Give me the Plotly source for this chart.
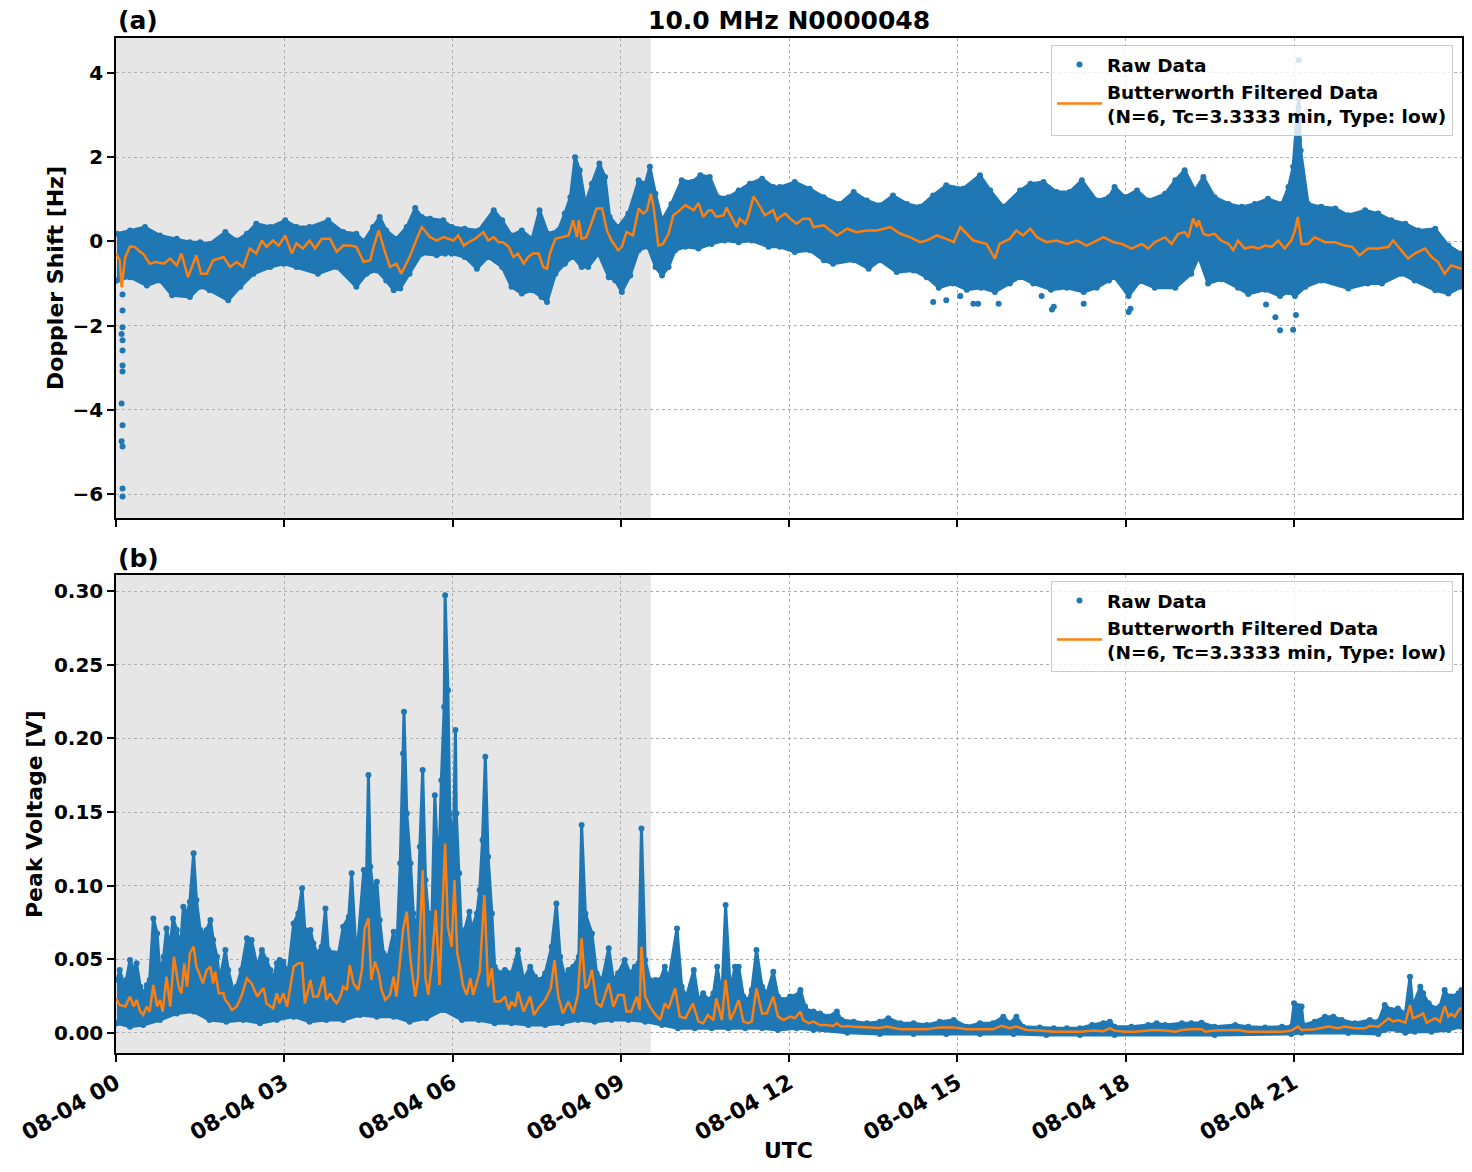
import pandas as pd
import plotly.graph_objects as go

# ---------------- data (minutes after 2024-08-04 00:00 UTC) ----------------
# Panel (a): Doppler shift [Hz]
A_FILT_T = [0, 4, 6, 8, 10, 15, 20, 26, 29, 36, 43, 51, 58, 65, 70, 77, 81, 86, 91, 97, 104, 115, 122, 129, 136,
            143, 150, 156, 161, 168, 174, 181, 188, 193, 200, 207, 213, 220, 229, 236, 243, 250, 257, 265, 272,
            275, 281, 286, 293, 300, 305, 314, 321, 327, 336, 343, 350, 361,
            366, 372, 377, 384, 393, 398, 404, 409, 414, 420, 425, 430, 436, 441, 446, 452, 457, 461, 464, 470,
            477, 484, 489, 493, 495, 498, 503, 509, 514, 520, 525, 530, 537, 541, 546, 553, 559, 564, 568, 572,
            575, 580, 585, 591, 596, 601, 609, 618, 623, 628, 634, 637, 642, 650, 653, 659, 664, 667, 673, 676,
            682, 687, 694, 703, 707,
            710, 716, 721, 728, 735, 742, 746, 757, 764, 771, 782, 792, 803, 814, 828, 839, 849, 860, 867, 878,
            888, 896, 903, 910, 917, 924, 931, 940, 945, 956, 963, 970, 978, 985, 995, 1006, 1017, 1028, 1038,
            1049, 1056, 1067,
            1076, 1086, 1097, 1104, 1111, 1122, 1129, 1136, 1143, 1147, 1152, 1156, 1158, 1163, 1168, 1175, 1182,
            1190, 1195, 1200, 1207, 1215, 1222, 1229, 1236, 1243, 1250, 1257, 1261, 1264, 1268, 1275, 1282, 1293,
            1304, 1314, 1322, 1330, 1339, 1350, 1361, 1366, 1375, 1382, 1389, 1400, 1407, 1414, 1421, 1428, 1439]
A_FILT_V = [-0.29, -0.45, -1.09, -0.69, -0.37, -0.12, -0.13, -0.25, -0.29, -0.53, -0.49, -0.53, -0.41, -0.57,
            -0.29, -0.85, -0.61, -0.33, -0.77, -0.77, -0.45, -0.37, -0.61, -0.49, -0.61, -0.17, -0.29, 0.02,
            -0.13, 0.02, -0.1, 0.14, -0.29, -0.05, -0.17, 0.02, -0.17, 0.06, 0.06, -0.25, -0.1, -0.1, -0.13,
            -0.49, -0.45, -0.17, 0.26, -0.13, -0.61, -0.53, -0.77, -0.37, 0.02, 0.34, 0.1, 0.02, 0.1, 0.02,
            0.14, -0.10, -0.02, 0.06, 0.22, 0.02, 0.10, -0.02, -0.02, -0.13, -0.37, -0.29, -0.53, -0.37, -0.29,
            -0.29, -0.61, -0.65, -0.29, 0.06, 0.10, 0.14, 0.50, 0.10, 0.50, 0.06, 0.10, 0.50, 0.78, 0.78, 0.26,
            0.02, -0.21, -0.13, 0.22, 0.14, 0.78, 0.66, 0.74, 1.13, 0.82, -0.10, -0.06, 0.18, 0.62, 0.70, 0.86,
            0.74, 0.91, 0.58, 0.74, 0.74, 0.58, 0.62, 0.80, 0.54, 0.34, 0.54, 0.42, 0.58, 1.07, 0.89, 0.62,
            0.74, 0.50,
            0.58, 0.66, 0.54, 0.42, 0.54, 0.54, 0.34, 0.38, 0.26, 0.14, 0.30, 0.22, 0.26, 0.26, 0.34, 0.18,
            0.10, -0.02, 0.02, 0.14, 0.06, -0.02, 0.34, 0.18, 0.02, -0.02, -0.06, -0.41, -0.06, 0.06, 0.26,
            0.14, 0.30, 0.10, -0.02, 0.02, -0.06, 0.02, -0.10, 0.02, 0.10, -0.02,
            -0.06, -0.17, -0.06, -0.17, -0.02, 0.10, -0.06, 0.18, 0.22, 0.10, 0.54, 0.34, 0.50, 0.18, 0.14,
            0.18, 0.02, -0.06, -0.21, 0.02, -0.17, -0.13, -0.17, -0.10, -0.13, 0.02, -0.17, 0.02, 0.26, 0.58,
            -0.06, -0.06, 0.10, -0.02, -0.02, -0.10, -0.13, -0.33, -0.17, -0.17, -0.13, 0.02, -0.21, -0.41,
            -0.29, -0.17, -0.37, -0.49, -0.77, -0.57, -0.65]

A_HI_T = [1, 15, 31, 47, 65, 79, 90, 100, 117, 129, 140, 150, 165, 181, 193, 207, 227, 243, 257, 265, 275, 282,
          289, 300, 311, 320, 327, 336, 350,
          359, 373, 388, 404, 413, 423, 434, 445, 453, 462, 473, 480, 486, 491, 496, 502, 509, 517, 523, 528,
          537, 548, 559, 566, 571, 577, 584, 594, 605, 616, 625, 635, 644, 655, 666, 678, 691, 703,
          710, 726, 742, 757, 774, 789, 803, 817, 831, 846, 860, 874, 888, 906, 924, 935, 949, 967, 978, 992,
          1006, 1020, 1033, 1049, 1062,
          1068, 1079, 1092, 1104, 1122, 1133, 1143, 1154, 1163, 1175, 1190, 1204, 1218, 1232, 1247, 1254, 1259,
          1263, 1265, 1267, 1275, 1289, 1304, 1318, 1336, 1350, 1364, 1379, 1393, 1411, 1425, 1439]
A_HI_V = [0.18, 0.26, 0.34, 0.14, 0.06, -0.02, -0.02, -0.06, 0.22, 0.02, 0.18, 0.42, 0.34, 0.5, 0.34, 0.34, 0.5,
          0.22, 0.18, 0.0, 0.34, 0.58, 0.26, 0.06, 0.34, 0.79, 0.58, 0.54, 0.5,
          0.34, 0.3, 0.26, 0.74, 0.5, 0.14, 0.26, 0.06, 0.74, 0.18, 0.26, 0.66, 1.05, 2.0, 1.69, 0.89, 1.37,
          1.85, 1.53, 0.58, 0.34, 0.66, 1.45, 1.37, 1.77, 1.13, 0.5, 0.89, 1.45, 1.41, 1.57, 1.53, 1.05, 1.05,
          1.21, 1.37, 1.49, 1.29,
          1.29, 1.41, 1.25, 1.05, 0.89, 1.17, 0.97, 0.86, 1.09, 0.89, 0.82, 1.09, 1.33, 1.25, 1.57, 1.21, 0.82,
          1.21, 1.37, 1.41, 1.17, 1.17, 1.45, 0.97, 1.05,
          1.29, 1.05, 1.21, 0.97, 1.13, 1.45, 1.69, 1.21, 1.53, 1.05, 0.89, 0.82, 0.89, 1.01, 0.89, 1.29, 1.77,
          2.95, 3.4, 2.16, 0.89, 0.82, 0.78, 0.62, 0.74, 0.66, 0.5, 0.42, 0.26, 0.3, -0.1, -0.29]

A_LO_T = [1, 15, 33, 47, 60, 79, 90, 100, 120, 133, 147, 165, 179, 193, 216, 236, 257, 268, 279, 289, 297, 304,
          314, 327, 343, 352,
          359, 373, 386, 398, 413, 423, 434, 445, 455, 461, 470, 480, 489, 498, 505, 516, 527, 534, 541, 550,
          559, 569, 577, 584, 591, 598, 609, 623, 637, 651, 666, 680, 698,
          710, 726, 742, 757, 767, 789, 805, 817, 835, 853, 867, 880, 895, 910, 925, 940, 956, 967, 981, 1000,
          1017, 1035, 1049, 1062,
          1068, 1083, 1095, 1111, 1133, 1150, 1158, 1168, 1182, 1200, 1211, 1229, 1245, 1254, 1261, 1272, 1289,
          1318, 1339, 1354, 1375, 1389, 1411, 1425, 1439]
A_LO_V = [-0.93, -0.85, -1.05, -0.93, -1.28, -1.32, -1.08, -1.16, -1.4, -1.08, -0.77, -0.61, -0.53, -0.61, -0.77,
          -0.61, -1.08, -0.77, -0.69, -0.93, -1.16, -1.12, -0.77, -0.29, -0.33, -0.29,
          -0.29, -0.37, -0.65, -0.37, -0.61, -1.08, -1.24, -1.16, -1.32, -1.44, -0.77, -0.53, -0.37, -0.61,
          -0.61, -0.29, -0.85, -0.93, -1.2, -0.81, -0.21, -0.13, -0.61, -0.81, -0.61, -0.21, -0.13, -0.17,
          -0.06, 0.02, -0.02, 0.02, -0.13,
          -0.13, -0.25, -0.21, -0.45, -0.53, -0.45, -0.65, -0.45, -0.73, -0.69, -0.85, -1.1, -1.0, -1.15, -1.1,
          -1.2, -1.0, -0.85, -1.0, -1.15, -1.1, -1.2, -1.1, -0.93,
          -0.85, -1.3, -0.95, -1.1, -1.1, -0.77, -0.37, -1.0, -0.9, -1.1, -1.25, -1.15, -1.3, -1.2, -1.3, -1.08,
          -0.93, -1.12, -1.0, -1.0, -0.77, -0.93, -1.16, -1.24, -1.08]

A_OUT_T = [7, 7, 7, 6, 7, 7, 7, 7, 6, 7, 6, 7, 7, 7,
           1265, 1265, 1264, 1265, 1265, 1264, 1265,
           874, 888, 903, 917, 922, 944, 990, 1001, 1003, 1035,
           1083, 1085, 1230, 1240, 1245, 1259, 1262]
A_OUT_V = [-1.26, -1.64, -2.04, -2.2, -2.35, -2.59, -2.95, -3.09, -3.85, -4.37, -4.75, -4.87, -5.87, -6.06,
           4.3, 3.19, 2.95, 2.72, 2.4, 2.08, 1.77,
           -1.44, -1.4, -1.3, -1.48, -1.48, -1.48, -1.3, -1.62, -1.55, -1.48,
           -1.68, -1.6, -1.5, -1.8, -2.11, -2.1, -1.75]

# Panel (b): Peak voltage [V]
B_FILT_T = [0, 4, 10, 15, 19, 22, 26, 29, 33, 36, 40, 44, 47, 50, 54, 58, 62, 67, 70, 73, 76, 79, 83, 86, 89,
            93, 97, 101, 104, 106, 110, 115, 117, 120, 124, 129, 134, 140, 145, 151, 156, 158, 161, 165, 168,
            172, 175, 179, 183, 190, 195, 199, 202, 208, 211, 216, 222, 225, 229, 233, 236, 240, 243, 247, 250,
            254, 259, 263, 266, 270, 273, 277, 281, 284, 288, 293, 297, 300, 304, 307, 311, 315, 320, 323, 328,
            331, 334, 338, 342, 346, 349,
            352, 355, 359, 362, 365, 368, 371, 375, 379, 382, 386, 389, 394, 398, 402, 405, 411, 416, 420, 423,
            427, 430, 436, 443, 447, 453, 459, 465, 469, 473, 478, 484, 489, 494, 498, 502, 505, 509, 514, 519,
            527, 532, 537, 543, 546, 551, 557, 560, 562, 566, 571, 576, 582, 587, 591, 598, 603, 609, 617, 623,
            628, 633, 639, 642, 648, 652, 657, 662, 666, 671, 676, 680, 685, 691, 696, 703, 708, 714, 721,
            726, 732, 735, 741, 746, 753, 760, 767, 771, 776, 782, 789, 803, 817, 824, 839, 853, 867, 881, 896,
            910, 924, 938, 947, 956, 963, 974, 988, 1003, 1017, 1031, 1045, 1056, 1063,
            1068, 1079, 1090, 1104, 1111, 1122, 1133, 1140, 1150, 1161, 1165, 1175, 1190, 1200, 1211, 1229,
            1247, 1257, 1264, 1268, 1282, 1297, 1307, 1314, 1325, 1336, 1341, 1350, 1357, 1361, 1366, 1371,
            1379, 1384, 1387, 1393, 1398, 1402, 1411, 1416, 1421, 1425, 1428, 1432, 1436, 1439]
B_FILT_V = [.0235, .019, .0179, .0247, .0179, .0224, .0145, .0122, .0179, .0145, .0326, .0179, .0224, .0145,
            .0382, .0179, .0518, .0314, .0269, .0473, .0314, .0541, .0586, .045, .0405, .0337, .0428, .045,
            .0337, .0416, .0269, .0269, .0224, .0201, .0156, .0179, .0247, .0371, .0337, .0247, .0292, .0303,
            .0201, .0179, .0167, .0269, .0201, .0269, .0179, .045, .0473, .0473, .0201, .036, .0247, .0247,
            .0382, .0224, .0269, .0224, .0201, .0247, .0314, .0292, .0462, .0337, .0292, .0428, .071, .0778,
            .036, .0484, .0405, .0292, .0224, .0258, .0382, .0247, .0495, .0699, .0824, .0495, .0247, .0371,
            .1106, .0371, .0258, .0484, .0835, .0326, .0812,
            .1287, .0722, .0586, .1038, .0541, .045, .0326, .0258, .0371, .0258, .036, .0416, .0937, .0314,
            .0439, .0213, .0213, .0247, .0156, .0213, .0179, .0281, .0145, .0247, .0122, .0179, .0224, .0303,
            .0495, .0247, .0133, .0213, .0133, .0258, .0643, .0303, .0326, .0428, .0201, .0179, .0337, .0179,
            .0258, .0258, .0145, .0145, .0247, .0156, .0586, .0247, .0179, .0133, .0088, .0201, .0167, .0303,
            .0111, .01, .0201, .0077, .0066, .0122, .0088, .0235, .0088, .036, .0088, .0156, .0224, .0077,
            .0066, .0077, .0303, .0133, .0133, .0247, .0111, .0088, .0111,
            .01, .0145, .0088, .0066, .0077, .0054, .0054, .0048, .0066, .0043, .0048, .0043, .0038, .0034,
            .0043, .0025, .0025, .0025, .0038, .0038, .0025, .0025, .0025, .0048, .0032, .0043, .002, .0016,
            .0009, .0009, .0009, .0016, .0011, .0032,
            .0016, .0009, .0009, .0016, .002, .0016, .0009, .002, .0025, .0025, .0009, .0016, .002, .002, .0009,
            .0009, .0009, .0016, .0043, .002, .0025, .0043, .0032, .0043, .0032, .0032, .0048, .0043, .0077,
            .01, .0077, .0088, .007, .019, .01, .0115, .0133, .007, .01, .0077, .0183, .0111, .0129, .0111,
            .0156, .0172]

B_HI_T = [1, 4, 8, 11, 15, 19, 22, 26, 29, 33, 36, 40, 44, 47, 51, 54, 58, 61, 65, 69, 72, 76, 79, 83, 86, 90,
          93, 97, 101, 104, 108, 111, 117, 120, 126, 129, 134, 140, 145, 151, 156, 161, 165, 168, 172, 175, 179,
          184, 190, 195, 199, 202, 208, 211, 215, 220, 224, 227, 233, 238, 243, 249, 252, 256, 259, 265, 268,
          270, 272, 275, 279, 282, 286, 291, 297, 300, 304, 307, 308, 311, 315, 318, 322, 325, 328, 331, 334,
          338, 341, 345, 348, 351,
          352, 355, 357, 361, 363, 364, 367, 370, 373, 378, 380, 386, 389, 392, 395, 398, 402, 405, 411, 416,
          423, 430, 436, 443, 448, 454, 459, 466, 471, 475, 480, 484, 489, 495, 498, 502, 509, 514, 520, 527,
          532, 537, 544, 550, 555, 559, 562, 566, 571, 577, 582, 587, 591, 600, 605, 610, 618, 623, 628, 634,
          639, 643, 648, 652, 657, 662, 666, 671, 676, 680, 685, 691, 696, 703, 708, 714, 721,
          726, 732, 737, 741, 746, 753, 762, 771, 776, 789, 803, 817, 826, 839, 853, 867, 881, 896, 910, 924,
          938, 949, 956, 963, 970, 988, 1003, 1017, 1031, 1044, 1056, 1063,
          1068, 1086, 1104, 1113, 1122, 1140, 1150, 1161, 1175, 1197, 1211, 1229, 1247, 1257, 1260, 1264, 1268,
          1270, 1282, 1293, 1302, 1311, 1325, 1341, 1350, 1357, 1364, 1371, 1379, 1384, 1387, 1395, 1398,
          1404, 1411, 1416, 1421, 1425, 1428, 1436, 1439]
B_HI_V = [.036, .0428, .0337, .036, .0495, .0428, .0473, .0314, .0269, .0326, .036, .0778, .0676, .0405, .0518,
          .071, .0586, .0778, .0699, .0586, .0857, .0812, .0891, .122, .0903, .0699, .0676, .0699, .0767, .0631,
          .0518, .036, .0563, .0428, .0269, .0314, .0428, .0643, .0631, .045, .0563, .0495, .0428, .036, .0473,
          .0495, .0484, .0405, .0744, .0812, .0982, .0699, .0699, .0609, .0541, .0586, .0846, .0563, .0541,
          .0541, .0722, .079, .1084, .0631, .0631, .1106, .1084, .1751, .1129, .0971, .1027, .0767, .0541,
          .0518, .0688, .0518, .1152, .1898, .2181, .1491, .1152, .0812, .0676, .1265, .1785, .1038, .0812,
          .0812, .1615, .1038, .1717, .2215,
          .2973, .2328, .1491, .1265, .2057, .1491, .1084, .0586, .0699, .0824, .0699, .0812, .0971, .131,
          .1876, .1197, .0812, .045, .0405, .0428, .0405, .0563, .036, .045, .0382, .036, .0405, .0586, .088,
          .0518, .0382, .0428, .045, .0518, .1412, .0812, .0676, .0405, .036, .0575, .036, .0405, .0495, .0405,
          .045, .0473, .1389, .0495, .036, .036, .036, .045, .036, .071, .0314, .0247, .0428, .0224, .0269,
          .0224, .0269, .045, .0247, .0869, .0292, .045, .045, .0247, .0224, .0292, .0563, .0314, .0269, .0416,
          .0247, .0224, .0247,
          .0247, .0292, .0179, .0145, .0145, .0133, .0111, .0145, .0088, .0077, .0066, .0077, .01, .0066,
          .0066, .0054, .0077, .0088, .0043, .0066, .0066, .0111, .0066, .0111, .0043, .0038, .0032, .0032,
          .0032, .0054, .0066, .0077,
          .0043, .0043, .0054, .0066, .0054, .0066, .0066, .007, .0043, .0054, .0043, .0038, .0043, .0043,
          .0201, .0183, .0179, .0054, .0077, .0111, .0111, .0088, .0066, .0088, .0077, .019, .0156, .0167,
          .0133, .0382, .0179, .0314, .0269, .0201, .0167, .0179, .0292, .0247, .0247, .0269, .0292]

B_LO_T = [1, 15, 29, 47, 65, 83, 100, 118, 136, 154, 172, 190, 207, 225, 243, 261, 279, 297, 314, 332, 350,
          370, 388, 405, 423, 441, 459, 477, 494, 512, 530, 548, 566, 584, 601, 619, 637, 655, 673, 691, 708,
          728, 746, 782, 817, 853, 888, 924, 960, 995, 1031,
          1068, 1175, 1257, 1268, 1318, 1350, 1357, 1371, 1379, 1389, 1407, 1425, 1439]
B_LO_V = [.0066, .0043, .0054, .0088, .0133, .0145, .0088, .0077, .0088, .0066, .0088, .0111, .0077, .0088, .0088,
          .0122, .0111, .0111, .0077, .01, .0156,
          .0088, .0088, .0066, .0066, .0054, .0054, .0066, .0088, .0077, .0088, .0088, .0077, .0054, .0032,
          .0032, .0032, .0032, .0032, .0032, .002,
          .0032, .002, .0002, -.0007, -.0007, -.0007, -.0007, -.0007, -.0014, -.0014,
          -.0014, -.0014, -.0007, .0002, 0.0, -.0007, .002, .002, .0002, .0009, .0009, .002, .0043]

SHADE_END_MIN = 572
X_END_MIN = 1439.6
TITLE = "10.0 MHz N0000048"
RAW_NAME = "Raw Data"
FILT_NAME = "Butterworth Filtered Data<br>(N=6, Tc=3.3333 min, Type: low)"

# ---------------- figure ----------------
BASE = pd.Timestamp("2024-08-04 00:00")


def tm(mins):
    return [BASE + pd.Timedelta(minutes=m) for m in mins]


BLUE = "#1f77b4"
ORANGE = "#ff7f0e"
FONT = "DejaVu Sans"
W, H = 1472, 1172

fig = go.Figure()


def add_panel(hi_t, hi_v, lo_t, lo_v, out_t, out_v, f_t, f_v, xa, ya, leg):
    fig.add_trace(go.Scatter(
        x=tm(hi_t) + tm(lo_t)[::-1], y=list(hi_v) + list(lo_v)[::-1],
        mode="lines", fill="toself", fillcolor=BLUE,
        line=dict(color=BLUE, width=3), showlegend=False, hoverinfo="skip",
        xaxis=xa, yaxis=ya))
    fig.add_trace(go.Scatter(
        x=tm(hi_t + lo_t + out_t), y=list(hi_v) + list(lo_v) + list(out_v),
        mode="markers", marker=dict(color=BLUE, size=6, line=dict(width=0)),
        name=RAW_NAME, legend=leg, xaxis=xa, yaxis=ya))
    fig.add_trace(go.Scatter(
        x=tm(f_t), y=f_v, mode="lines", line=dict(color=ORANGE, width=2.5),
        name=FILT_NAME, legend=leg, xaxis=xa, yaxis=ya))


add_panel(A_HI_T, A_HI_V, A_LO_T, A_LO_V, A_OUT_T, A_OUT_V, A_FILT_T, A_FILT_V, "x", "y", "legend")
add_panel(B_HI_T, B_HI_V, B_LO_T, B_LO_V, [], [], B_FILT_T, B_FILT_V, "x2", "y2", "legend2")

x_dom = [116 / W, 1462 / W]
ya_dom = [1 - 518 / H, 1 - 38 / H]
yb_dom = [1 - 1053 / H, 1 - 575 / H]
x_rng = [BASE, BASE + pd.Timedelta(minutes=X_END_MIN)]

tickfont = dict(family=FONT, size=20, color="black", weight="bold")
xtickfont = dict(family=FONT, size=22, color="black", weight="bold")
common_axis = dict(showline=True, linecolor="black", linewidth=1.5, mirror=True,
                   ticks="outside", ticklen=7, tickwidth=1.5, tickcolor="black",
                   showgrid=True, gridcolor="#b0b0b0", griddash="dot", gridwidth=1,
                   zeroline=False, automargin=False)
xcommon = dict(type="date", domain=x_dom, range=x_rng, tick0=BASE, dtick=3 * 3600 * 1000,
               tickformat="%m-%d %H", tickfont=xtickfont, **common_axis)

leg_common = dict(xanchor="right", x=1453 / W, yanchor="top", bgcolor="rgba(255,255,255,0.8)",
                  bordercolor="#cccccc", borderwidth=1, itemwidth=45,
                  font=dict(family=FONT, size=18.5, color="black", weight="bold"),
                  tracegroupgap=4)

fig.update_layout(
    width=W, height=H, margin=dict(l=0, r=0, t=0, b=0, autoexpand=False),
    paper_bgcolor="white", plot_bgcolor="white",
    font=dict(family=FONT, color="black"),
    xaxis=dict(anchor="y", showticklabels=False, **xcommon),
    xaxis2=dict(anchor="y2", matches="x", showticklabels=True, tickangle=-30, **xcommon),
    yaxis=dict(anchor="x", domain=ya_dom, range=[-6.57, 4.83], tickvals=[-6, -4, -2, 0, 2, 4],
               tickfont=tickfont, **common_axis),
    yaxis2=dict(anchor="x2", domain=yb_dom, range=[-0.0136, 0.311],
                tickvals=[0, 0.05, 0.10, 0.15, 0.20, 0.25, 0.30], tickformat=".2f",
                tickfont=tickfont, **common_axis),
    legend=dict(y=1 - 45 / H, **leg_common),
    legend2=dict(y=1 - 581 / H, **leg_common),
    showlegend=True,
)

for xr, yref in [("x", "y domain"), ("x2", "y2 domain")]:
    fig.add_shape(type="rect", xref=xr, yref=yref,
                  x0=BASE, x1=BASE + pd.Timedelta(minutes=SHADE_END_MIN), y0=0, y1=1,
                  fillcolor="#e6e6e6", line=dict(width=0), layer="below")

afont = dict(family=FONT, size=25, color="black", weight="bold")
lfont = dict(family=FONT, size=22, color="black", weight="bold")
fig.add_annotation(x=116 / W, y=1 - 21 / H, xref="paper", yref="paper", text="(a)", showarrow=False,
                   xanchor="left", yanchor="middle", font=afont)
fig.add_annotation(x=(116 + 1462) / 2 / W, y=1 - 21 / H, xref="paper", yref="paper", text=TITLE,
                   showarrow=False, xanchor="center", yanchor="middle", font=afont)
fig.add_annotation(x=116 / W, y=1 - 558 / H, xref="paper", yref="paper", text="(b)", showarrow=False,
                   xanchor="left", yanchor="middle", font=afont)
fig.add_annotation(x=55 / W, y=1 - 278 / H, xref="paper", yref="paper", text="Doppler Shift [Hz]",
                   showarrow=False, textangle=-90, xanchor="center", yanchor="middle", font=lfont)
fig.add_annotation(x=34 / W, y=1 - 814 / H, xref="paper", yref="paper", text="Peak Voltage [V]",
                   showarrow=False, textangle=-90, xanchor="center", yanchor="middle", font=lfont)
fig.add_annotation(x=(116 + 1462) / 2 / W, y=1 - 1150 / H, xref="paper", yref="paper", text="UTC",
                   showarrow=False, xanchor="center", yanchor="middle", font=lfont)

fig.write_html("out.html")
